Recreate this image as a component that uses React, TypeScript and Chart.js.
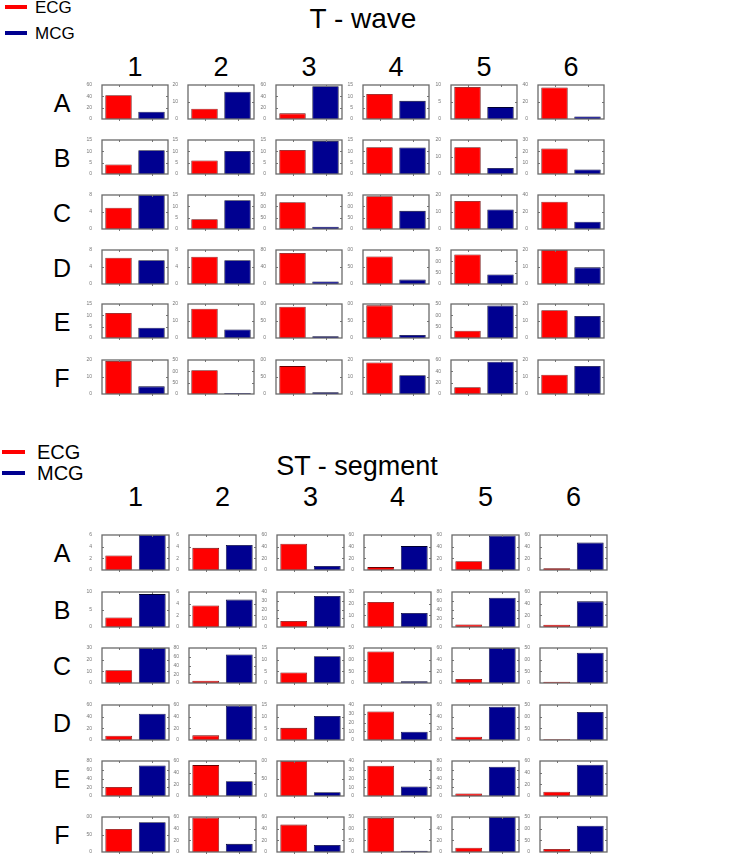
import React, { useEffect, useRef } from "react";
import { Chart, registerables } from "chart.js";

Chart.register(...registerables);

const rowLabels = ["A", "B", "C", "D", "E", "F"];
const colLabels = ["1", "2", "3", "4", "5", "6"];
const seriesNames = ["ECG", "MCG"];

// T - wave
const tEcg = [
  [42, 6, 10, 11, 9.4, 37],
  [4.2, 6, 10.6, 11.8, 15.8, 22.5],
  [5, 4.3, 118, 145, 16.5, 32],
  [6.2, 6.4, 73, 81, 130, 20],
  [11, 17.2, 92, 96, 32, 16.3],
  [19.5, 105, 82, 18.5, 12, 11.3],
];
const tMcg = [
  [13, 16, 58, 8, 3.5, 3],
  [10.5, 10.2, 14.6, 11.7, 3.6, 4],
  [8, 12.7, 10, 80, 11.5, 8.5],
  [5.6, 5.6, 6, 13, 42, 9.8],
  [4.5, 5, 5, 9, 143, 13],
  [4.5, 4, 5, 11, 57, 16.5],
];
const tMax = [
  [60, 20, 60, 15, 10, 40],
  [15, 15, 15, 15, 20, 30],
  [8, 15, 150, 150, 20, 40],
  [8, 8, 80, 100, 150, 20],
  [15, 20, 100, 100, 150, 20],
  [20, 150, 100, 20, 60, 20],
];
const tStep = [
  [20, 5, 20, 5, 5, 10],
  [5, 5, 5, 5, 5, 10],
  [2, 5, 50, 50, 5, 10],
  [2, 2, 20, 50, 50, 5],
  [5, 5, 50, 50, 50, 5],
  [5, 50, 50, 5, 20, 5],
];

// ST - segment
const sEcg = [
  [2.5, 3.8, 45, 5, 15, 3],
  [2.7, 3.7, 7, 21.5, 6, 4],
  [11, 5, 4.5, 135, 7, 5],
  [7.5, 8, 5.2, 32.5, 5.5, 3],
  [20.5, 53, 100, 34.5, 6, 7.5],
  [66, 59, 47, 146, 7.5, 13],
];
const sMcg = [
  [6, 4.3, 7, 41, 59, 47],
  [9.4, 4.7, 35.5, 12, 67, 44],
  [30, 65, 11.5, 7, 60, 130],
  [45, 59, 10.3, 9.5, 57, 120],
  [70, 25.5, 11, 11, 67, 53.5],
  [85, 14, 12, 5, 60, 113],
];
const sMax = [
  [6, 6, 60, 60, 60, 60],
  [10, 6, 40, 30, 80, 60],
  [30, 80, 15, 150, 60, 150],
  [60, 60, 15, 40, 60, 150],
  [80, 60, 100, 40, 80, 60],
  [100, 60, 60, 150, 60, 150],
];
const sStep = [
  [2, 2, 20, 20, 20, 20],
  [5, 2, 10, 10, 20, 20],
  [10, 20, 5, 50, 20, 50],
  [20, 20, 5, 10, 20, 50],
  [20, 20, 50, 10, 20, 20],
  [50, 20, 20, 50, 20, 50],
];

const RED = "#ff0000";
const BLUE = "#000090";
const FONT = '"Liberation Sans", Arial, sans-serif';
const PADL = 16;
const PADT = 3;
const PADR = 2;
const PADB = 2;

const boxPlugin = {
  id: "boxFrame",
  afterDatasetsDraw(chart: any) {
    const { ctx, chartArea: a, scales } = chart;
    ctx.save();
    ctx.strokeStyle = "#777";
    ctx.lineWidth = 1;
    const ys = scales.y;
    const xs = scales.x;
    ctx.beginPath();
    ys.ticks.forEach((t: any) => {
      const y = Math.round(ys.getPixelForValue(t.value)) + 0.5;
      if (y <= a.top + 1 || y >= a.bottom - 1) return;
      ctx.moveTo(a.left, y);
      ctx.lineTo(a.left + 2, y);
      ctx.moveTo(a.right, y);
      ctx.lineTo(a.right - 2, y);
    });
    [0, 1].forEach((i) => {
      const x = Math.round(xs.getPixelForValue(i)) + 0.5;
      ctx.moveTo(x, a.top);
      ctx.lineTo(x, a.top + 2);
      ctx.moveTo(x, a.bottom);
      ctx.lineTo(x, a.bottom + 2);
    });
    ctx.stroke();
    ctx.lineWidth = 1.3;
    ctx.strokeStyle = "#6a6a6a";
    ctx.strokeRect(a.left, a.top, a.right - a.left, a.bottom - a.top);
    ctx.restore();
  },
};

type SubProps = {
  left: number;
  top: number;
  w: number;
  h: number;
  ecg: number;
  mcg: number;
  max: number;
  step: number;
};

function SubChart({ left, top, w, h, ecg, mcg, max, step }: SubProps) {
  const ref = useRef<HTMLCanvasElement>(null);
  const W = PADL + w + PADR;
  const H = PADT + h + PADB;
  useEffect(() => {
    if (!ref.current) return;
    const chart = new Chart(ref.current, {
      type: "bar",
      data: {
        labels: seriesNames,
        datasets: [
          {
            data: [ecg, mcg],
            backgroundColor: [RED, BLUE],
            borderColor: ["#6a0000", "#000030"],
            borderWidth: 0.8,
            barPercentage: 0.8,
            categoryPercentage: 1,
          },
        ],
      },
      options: {
        responsive: false,
        animation: false,
        events: [],
        layout: { padding: { top: PADT, right: PADR, bottom: PADB, left: 0 } },
        plugins: { legend: { display: false }, tooltip: { enabled: false } },
        scales: {
          x: { display: false, offset: true },
          y: {
            min: 0,
            max: max,
            grid: { display: false },
            border: { display: false },
            ticks: {
              stepSize: step,
              color: "#777",
              padding: 2,
              font: { size: 5, family: FONT },
            },
            afterFit: (s: any) => {
              s.width = PADL;
            },
          },
        },
      },
      plugins: [boxPlugin],
    });
    return () => chart.destroy();
  }, [ecg, mcg, max, step]);
  return (
    <canvas
      ref={ref}
      width={W}
      height={H}
      style={{
        position: "absolute",
        left: left - PADL,
        top: top - PADT,
        width: W,
        height: H,
      }}
    />
  );
}

function Txt({
  x,
  y,
  size,
  children,
  anchor = "center",
}: {
  x: number;
  y: number;
  size: number;
  children: React.ReactNode;
  anchor?: "center" | "left";
}) {
  return (
    <div
      style={{
        position: "absolute",
        left: x,
        top: y,
        transform: anchor === "center" ? "translate(-50%, -50%)" : "translate(0, -50%)",
        fontFamily: FONT,
        fontSize: size,
        lineHeight: 1,
        whiteSpace: "nowrap",
        color: "#000",
      }}
    >
      {children}
    </div>
  );
}

function LegendLine({ x, y, w, color }: { x: number; y: number; w: number; color: string }) {
  return (
    <div
      style={{
        position: "absolute",
        left: x,
        top: y - 2,
        width: w,
        height: 4,
        background: color,
      }}
    />
  );
}

type GridProps = {
  title: string;
  titleX: number;
  titleY: number;
  titleSize: number;
  legend: { lineX: number; lineW: number; textX: number; y1: number; y2: number; size: number };
  colLefts: number[];
  rowTops: number[];
  boxW: number;
  boxH: number;
  colY: number;
  ecg: number[][];
  mcg: number[][];
  maxes: number[][];
  steps: number[][];
};

function Grid(p: GridProps) {
  const els: React.ReactNode[] = [];
  els.push(
    <Txt key="title" x={p.titleX} y={p.titleY} size={p.titleSize}>
      {p.title}
    </Txt>
  );
  els.push(<LegendLine key="l1" x={p.legend.lineX} y={p.legend.y1} w={p.legend.lineW} color={RED} />);
  els.push(<LegendLine key="l2" x={p.legend.lineX} y={p.legend.y2} w={p.legend.lineW} color={BLUE} />);
  els.push(
    <Txt key="lt1" x={p.legend.textX} y={p.legend.y1} size={p.legend.size} anchor="left">
      {seriesNames[0]}
    </Txt>
  );
  els.push(
    <Txt key="lt2" x={p.legend.textX} y={p.legend.y2} size={p.legend.size} anchor="left">
      {seriesNames[1]}
    </Txt>
  );
  colLabels.forEach((c, ci) => {
    els.push(
      <Txt key={"c" + ci} x={p.colLefts[ci] + p.boxW / 2} y={p.colY} size={27}>
        {c}
      </Txt>
    );
  });
  rowLabels.forEach((r, ri) => {
    els.push(
      <Txt key={"r" + ri} x={62} y={p.rowTops[ri] + p.boxH / 2} size={25}>
        {r}
      </Txt>
    );
    colLabels.forEach((_, ci) => {
      els.push(
        <SubChart
          key={"s" + ri + "_" + ci}
          left={p.colLefts[ci]}
          top={p.rowTops[ri]}
          w={p.boxW}
          h={p.boxH}
          ecg={p.ecg[ri][ci]}
          mcg={p.mcg[ri][ci]}
          max={p.maxes[ri][ci]}
          step={p.steps[ri][ci]}
        />
      );
    });
  });
  return <>{els}</>;
}

export default function App() {
  return (
    <div
      style={{
        position: "absolute",
        left: 0,
        top: 0,
        width: 735,
        height: 861,
        background: "#fff",
        overflow: "hidden",
      }}
    >
      <Grid
        title="T - wave"
        titleX={363}
        titleY={19}
        titleSize={28}
        legend={{ lineX: 5, lineW: 22, textX: 35, y1: 7, y2: 33, size: 17 }}
        colLefts={[102, 188, 276, 363, 451, 538]}
        rowTops={[83, 138, 193, 248, 302, 358]}
        boxW={66}
        boxH={39}
        colY={67}
        ecg={tEcg}
        mcg={tMcg}
        maxes={tMax}
        steps={tStep}
      />
      <Grid
        title="ST - segment"
        titleX={357}
        titleY={466}
        titleSize={27}
        legend={{ lineX: 2, lineW: 23, textX: 37, y1: 452, y2: 473, size: 20 }}
        colLefts={[102, 189, 277, 364, 452, 540]}
        rowTops={[533, 590, 646, 703, 759, 815]}
        boxW={67}
        boxH={40}
        colY={497}
        ecg={sEcg}
        mcg={sMcg}
        maxes={sMax}
        steps={sStep}
      />
    </div>
  );
}
